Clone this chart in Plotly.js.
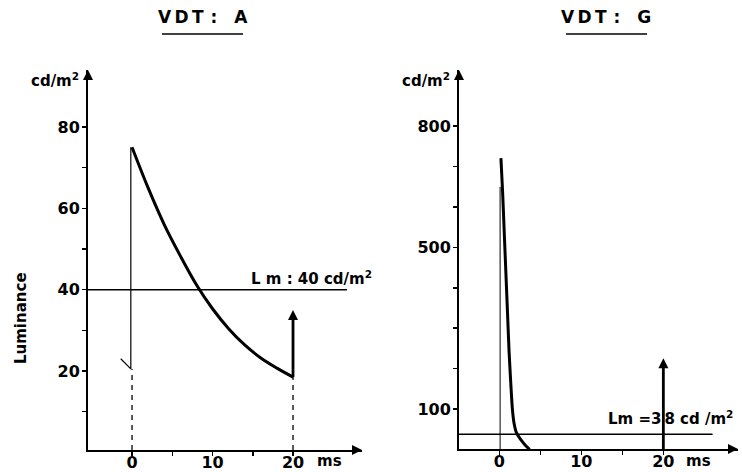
<!DOCTYPE html>
<html>
<head>
<meta charset="utf-8">
<script src="https://cdn.plot.ly/plotly-3.0.1.min.js"></script>
<style>html,body{margin:0;padding:0;background:#fff;}#chart{width:742px;height:472px;}</style>
</head>
<body>
<div id="chart"></div>
<script>
// ---- Data ----
// VDT A : luminance decay over one 20 ms frame
const timeA = [0, 2, 4, 6, 8, 10, 12, 14, 16, 18, 20];
const lumA = [75, 65, 56, 48.3, 41.2, 35.3, 30.4, 26.4, 23.2, 20.7, 18.5];
const leadTimeA = [-1.4, -0.15, -0.15];
const leadLumA = [23, 20.5, 75];
const meanA = 40;
const riseA = [18.5, 35];

// VDT G : short luminance peak
const timeG = [0.2, 0.4, 0.6, 0.8, 1.0, 1.2, 1.4, 1.6, 1.8, 2.1, 2.6, 3.2, 3.7];
const lumG = [721, 640, 540, 440, 340, 240, 165, 100, 65, 41, 25, 10, 0];
const leadTimeG = [0.1, 0.1];
const leadLumG = [1.2, 650];
const meanG = 38;
const riseG = [1.2, 226];

const xTickVals = [0, 10, 20];
const xTickText = ['0', '10', '20'];
const xMinorVals = [5, 15];
const yTickValsA = [20, 40, 60, 80];
const yTickTextA = ['20', '40', '60', '80'];
const yMinorValsA = [10, 30, 50, 70];
const yTickValsG = [100, 500, 800];
const yTickTextG = ['100', '500', '800'];
const yMinorValsG = [200, 300, 400, 600, 700];

// ---- Geometry helpers (pixel -> paper) ----
const W = 742, H = 472;
const px = v => v / W;
const py = v => 1 - v / H;

const rangeXA = [-5.47, 28.57], rangeYA = [0.57, 94.0];
const rangeXG = [-4.91, 29.1], rangeYG = [1.2, 939];

const FONT = 'DejaVu Sans, Liberation Sans, Arial, sans-serif';
const blk = '#000';

function head(xa, ya, x, y, sym, size) {
  return {x: [x], y: [y], xaxis: xa, yaxis: ya, mode: 'markers', cliponaxis: false,
    marker: {symbol: sym, size: size, color: blk, line: {width: 0}}};
}

const traces = [
  {x: timeA, y: lumA, xaxis: 'x', yaxis: 'y', mode: 'lines', line: {color: blk, width: 3, shape: 'spline', smoothing: 1}},
  {x: leadTimeA, y: leadLumA, xaxis: 'x', yaxis: 'y', mode: 'lines', line: {color: blk, width: 1.2}},
  {x: [rangeXA[0], 26.7], y: [meanA, meanA], xaxis: 'x', yaxis: 'y', mode: 'lines', line: {color: blk, width: 1.5}},
  {x: [0, 0], y: [rangeYA[0], leadLumA[1]], xaxis: 'x', yaxis: 'y', mode: 'lines', line: {color: blk, width: 1.3, dash: '5px,5px'}},
  {x: [20, 20], y: [rangeYA[0], lumA[lumA.length - 1]], xaxis: 'x', yaxis: 'y', mode: 'lines', line: {color: blk, width: 1.3, dash: '5px,5px'}},
  {x: [20, 20], y: [riseA[0], riseA[1] - 2], xaxis: 'x', yaxis: 'y', mode: 'lines', line: {color: blk, width: 2.8}},
  head('x', 'y', 20, riseA[1], 'arrow-up', 10),
  head('x', 'y', rangeXA[0], rangeYA[1], 'arrow-up', 10),
  head('x', 'y', rangeXA[1], rangeYA[0], 'arrow-right', 10),

  {x: leadTimeG, y: leadLumG, xaxis: 'x2', yaxis: 'y2', mode: 'lines', line: {color: blk, width: 1}},
  {x: timeG, y: lumG, xaxis: 'x2', yaxis: 'y2', mode: 'lines', line: {color: blk, width: 3, shape: 'spline', smoothing: 0.8}},
  {x: [rangeXG[0], 26], y: [meanG, meanG], xaxis: 'x2', yaxis: 'y2', mode: 'lines', line: {color: blk, width: 1.5}},
  {x: [20, 20], y: [riseG[0], riseG[1] - 20], xaxis: 'x2', yaxis: 'y2', mode: 'lines', line: {color: blk, width: 2.8}},
  head('x2', 'y2', 20, riseG[1], 'arrow-up', 10),
  head('x2', 'y2', rangeXG[0], rangeYG[1], 'arrow-up', 10),
  head('x2', 'y2', rangeXG[1], rangeYG[0], 'arrow-right', 10)
];

const minorCommon = {ticks: 'outside', ticklen: 4, tickwidth: 1.5, tickcolor: blk};
const axisCommon = {
  showgrid: false, zeroline: false, showline: true, linecolor: blk, linewidth: 2,
  ticks: 'outside', ticklen: 4, tickwidth: 1.5, tickcolor: blk,
  tickfont: {family: FONT, size: 16, color: blk, weight: 'bold'},
  fixedrange: true
};
const xTickFont = {family: FONT, size: 16, color: blk, weight: 'bold'};

function label(x, y, text, size, anchor, extra) {
  return Object.assign({xref: 'paper', yref: 'paper', x: px(x), y: py(y), text: text,
    showarrow: false, xanchor: anchor || 'center', yanchor: 'middle',
    font: {family: FONT, size: size, color: blk, weight: 'bold'}}, extra || {});
}

const annotations = [
  label(203, 17, 'V\u2009D\u2009T\u2009\u2009:\u2003A', 17),
  label(606, 17, 'V\u2009D\u2009T\u2009\u2009:\u2003G', 17),
  label(81, 80, 'cd/m<sup>2</sup>', 15, 'right'),
  label(452, 80, 'cd/m<sup>2</sup>', 15, 'right'),
  label(21, 318, 'Luminance', 15, 'center', {textangle: -90}),
  label(329, 461, 'ms', 15),
  label(698, 461, 'ms', 15),
  label(249, 278, 'L m : 40 cd/m<sup>2</sup>', 15, 'left'),
  label(606, 418, 'Lm =3\u20098 cd /m<sup>2</sup>', 15, 'left')
];

const shapes = [
  {type: 'line', xref: 'paper', yref: 'paper', x0: px(162), x1: px(243), y0: py(34), y1: py(34), line: {color: blk, width: 1.5}},
  {type: 'line', xref: 'paper', yref: 'paper', x0: px(566), x1: px(647), y0: py(34), y1: py(34), line: {color: blk, width: 1.5}}
];

const layout = {
  width: W, height: H,
  margin: {l: 0, r: 0, t: 0, b: 0},
  paper_bgcolor: '#fff', plot_bgcolor: 'rgba(0,0,0,0)',
  showlegend: false,
  xaxis: Object.assign({}, axisCommon, {domain: [px(88), px(362)], range: rangeXA, anchor: 'y', tickvals: xTickVals, ticktext: xTickText, tickfont: xTickFont, ticklabelstandoff: -7, minor: Object.assign({tickvals: xMinorVals}, minorCommon)}),
  yaxis: Object.assign({}, axisCommon, {domain: [py(450), py(70)], range: rangeYA, anchor: 'x', tickvals: yTickValsA, ticktext: yTickTextA, ticklabelstandoff: -1, minor: Object.assign({tickvals: yMinorValsA}, minorCommon)}),
  xaxis2: Object.assign({}, axisCommon, {domain: [px(459), px(738)], range: rangeXG, anchor: 'y2', tickvals: xTickVals, ticktext: xTickText, tickfont: xTickFont, ticklabelstandoff: -7, minor: Object.assign({tickvals: xMinorVals}, minorCommon)}),
  yaxis2: Object.assign({}, axisCommon, {domain: [py(449), py(70)], range: rangeYG, anchor: 'x2', tickvals: yTickValsG, ticktext: yTickTextG, ticklabelstandoff: -1, minor: Object.assign({tickvals: yMinorValsG}, minorCommon)}),
  annotations: annotations,
  shapes: shapes
};

Plotly.newPlot('chart', traces, layout, {displayModeBar: false, staticPlot: true});
</script>
</body>
</html>
